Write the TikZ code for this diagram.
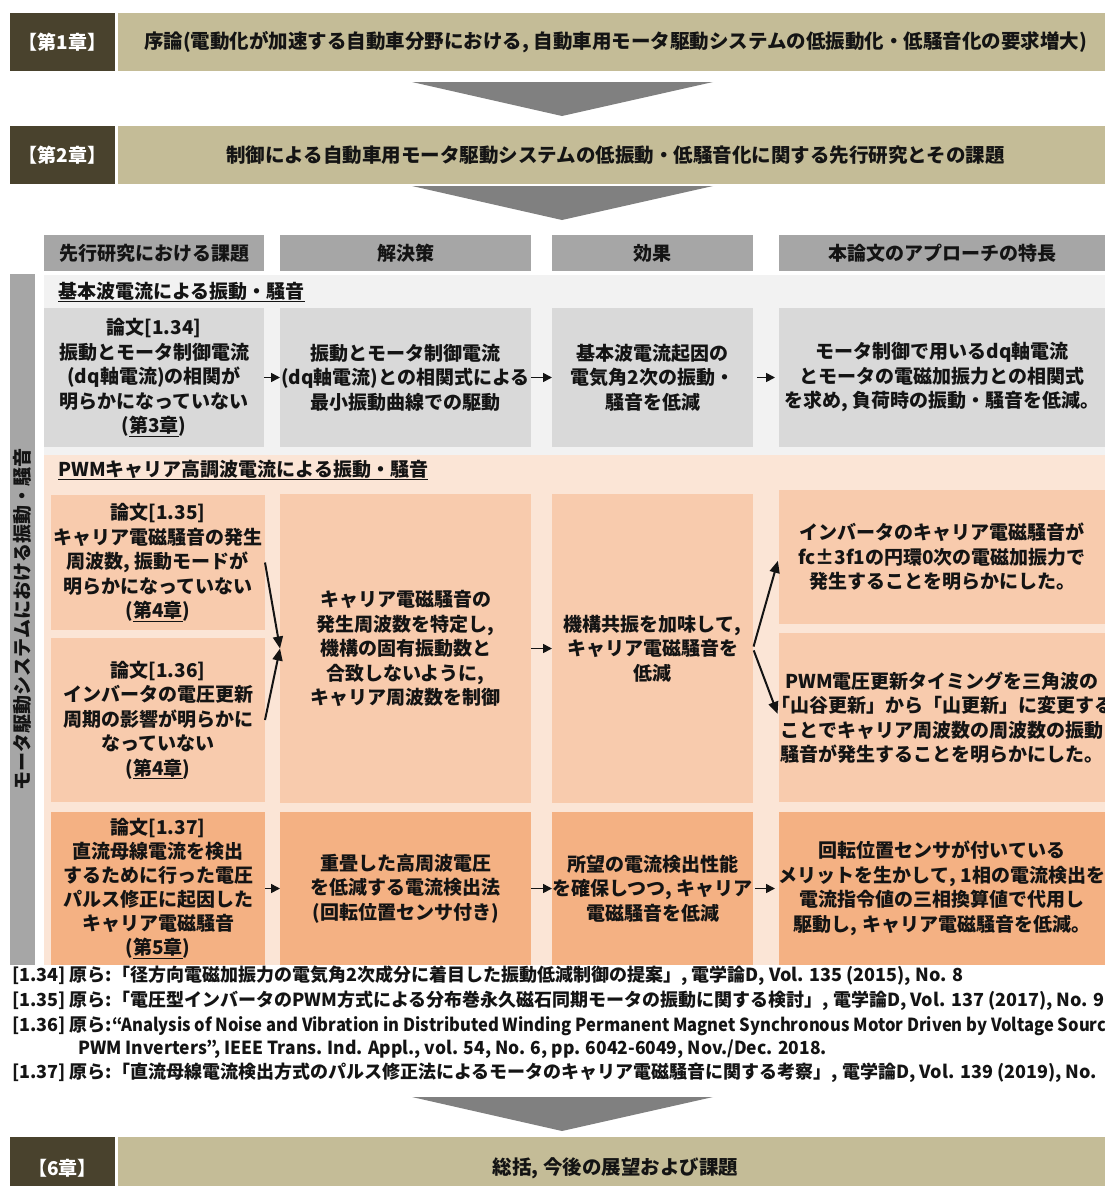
\documentclass[tikz,border=0pt]{standalone}
\usepackage{fontspec}
\setmainfont{Noto Sans CJK JP}
\newfontfamily\latna{Noto Sans CJK JP}[FakeStretch=0.92]
\newfontfamily\latnb{Noto Sans CJK JP}[FakeStretch=0.97]
\usetikzlibrary{arrows.meta}
\definecolor{cdark}{RGB}{73,66,45}
\definecolor{clight}{RGB}{196,188,151}
\definecolor{trigray}{RGB}{128,128,128}
\definecolor{hgray}{RGB}{166,166,166}
\definecolor{secone}{RGB}{242,242,242}
\definecolor{bgray}{RGB}{217,217,217}
\definecolor{sectwo}{RGB}{251,229,214}
\definecolor{peach}{RGB}{248,203,173}
\definecolor{orng}{RGB}{244,177,131}
\definecolor{ink}{RGB}{20,20,20}
\newcommand\myfs[2]{\fontsize{#1}{#2}\selectfont}
\begin{document}
\begin{tikzpicture}[x=1pt,y=-1pt,
  boxbase/.style={inner sep=0pt, outer sep=0pt, anchor=north west, draw=none},
  chapd/.style={boxbase, fill=cdark},
  chapl/.style={boxbase, fill=clight},
  hdr/.style={boxbase, fill=hgray},
  gbox/.style={boxbase, fill=bgray},
  pbox/.style={boxbase, fill=peach},
  obox/.style={boxbase, fill=orng},
  txt/.style={align=center, inner sep=0pt, text=ink, font=\myfs{19}{24.5}\bfseries},
  chaptxt/.style={align=center, inner sep=0pt, text=ink, font=\myfs{19.5}{24}\bfseries},
  chtxt/.style={align=center, inner sep=0pt, text=white, font=\myfs{19}{22}\bfseries},
  ttl/.style={anchor=west, inner sep=0pt, text=ink, font=\myfs{19}{24}\bfseries},
  reftxt/.style={anchor=west, inner sep=0pt, text=ink, font=\myfs{18}{22}\bfseries},
  tri/.style={fill=trigray},
  arr/.style={-{Triangle[length=9pt,width=9pt]}, line width=1.6pt, draw=ink},
  darr/.style={-{Triangle[length=12pt,width=10pt]}, line width=2pt, draw=ink},
]
\useasboundingbox (0,0) rectangle (1105,1186);
\clip (0,0) rectangle (1105,1186);
\fill[white] (0,0) rectangle (1105,1186);

% chapter 1
\node[chapd, minimum width=105pt, minimum height=58pt] (c1l) at (10,13) {};
\node[chtxt] (c1lt) at (c1l.center) {【第1章】};
\node[chapl, minimum width=987pt, minimum height=58pt] (c1) at (118,13) {};
\node[chaptxt] (c1t) at ([xshift=4pt]c1.center) {序論(電動化が加速する自動車分野における, 自動車用モータ駆動システムの低振動化・低騒音化の要求増大)};
\fill[tri] (412,82) -- (713,82) -- (562,116) -- cycle;

% chapter 2
\node[chapd, minimum width=105pt, minimum height=58pt] (c2l) at (10,126) {};
\node[chtxt] (c2lt) at (c2l.center) {【第2章】};
\node[chapl, minimum width=987pt, minimum height=58pt] (c2) at (118,126) {};
\node[chaptxt] (c2t) at ([xshift=4pt]c2.center) {制御による自動車用モータ駆動システムの低振動・低騒音化に関する先行研究とその課題};
\fill[tri] (412,186) -- (713,186) -- (562,220) -- cycle;

% column headers
\node[hdr, minimum width=220pt, minimum height=36pt] (h1) at (44,235) {};
\node[txt] at (h1.center) {先行研究における課題};
\node[hdr, minimum width=251pt, minimum height=36pt] (h2) at (280,235) {};
\node[txt] at (h2.center) {解決策};
\node[hdr, minimum width=201pt, minimum height=36pt] (h3) at (552,235) {};
\node[txt] at (h3.center) {効果};
\node[hdr, minimum width=326pt, minimum height=36pt] (h4) at (779,235) {};
\node[txt] at (h4.center) {本論文のアプローチの特長};

% section backgrounds
\fill[secone] (44,275) rectangle (1105,455);
\fill[sectwo] (44,455) rectangle (1105,965);
\node[boxbase, anchor=center, fill=hgray, rotate=90, minimum width=691pt, minimum height=25pt] (vbar) at (22.5,619.5) {};
\node[txt, rotate=90] (vbart) at (vbar.center) {モータ駆動システムにおける振動・騒音};

% section 1
\node[ttl] (s1) at (58,292) {\underline{基本波電流による振動・騒音}};
\node[gbox, minimum width=220pt, minimum height=139pt] (a1) at (44,308) {};
\node[gbox, minimum width=251pt, minimum height=139pt] (a2) at (280,308) {};
\node[gbox, minimum width=201pt, minimum height=139pt] (a3) at (552,308) {};
\node[gbox, minimum width=326pt, minimum height=139pt] (a4) at (779,308) {};
\node[txt] (a1t) at (a1.center) {論文[1.34]\\振動とモータ制御電流\\(dq軸電流)の相関が\\明らかになっていない\\(\underline{第3章})};
\node[txt] (a2t) at (a2.center) {振動とモータ制御電流\\(dq軸電流)との相関式による\\最小振動曲線での駆動};
\node[txt] (a3t) at (a3.center) {基本波電流起因の\\電気角2次の振動・\\騒音を低減};
\node[txt] (a4t) at (a4.center) {モータ制御で用いるdq軸電流\\とモータの電磁加振力との相関式\\を求め, 負荷時の振動・騒音を低減。};
\draw[arr] (a1.east) -- (a2.west);
\draw[arr] (a2.east) -- (a3.west);
\draw[arr, shorten <=4pt, shorten >=4pt] (a3.east) -- (a4.west);

% section 2
\node[ttl] (s2) at (58,470) {\underline{PWMキャリア高調波電流による振動・騒音}};
\node[pbox, minimum width=214pt, minimum height=135pt] (b1) at (51,495) {};
\node[pbox, minimum width=214pt, minimum height=164pt] (b2) at (51,638) {};
\node[pbox, minimum width=251pt, minimum height=309pt] (bs) at (280,494) {};
\node[pbox, minimum width=201pt, minimum height=309pt] (b3) at (552,494) {};
\node[pbox, minimum width=326pt, minimum height=134pt] (b4) at (779,490) {};
\node[pbox, minimum width=326pt, minimum height=169pt] (b5) at (779,633) {};
\node[txt] (b1t) at (b1.center) {論文[1.35]\\キャリア電磁騒音の発生\\周波数, 振動モードが\\明らかになっていない\\(\underline{第4章})};
\node[txt] (b2t) at (b2.center) {論文[1.36]\\インバータの電圧更新\\周期の影響が明らかに\\なっていない\\(\underline{第4章})};
\node[txt] (bst) at (bs.center) {キャリア電磁騒音の\\発生周波数を特定し,\\機構の固有振動数と\\合致しないように,\\キャリア周波数を制御};
\node[txt] (b3t) at (b3.center) {機構共振を加味して,\\キャリア電磁騒音を\\低減};
\node[txt] (b4t) at (b4.center) {インバータのキャリア電磁騒音が\\fc±3f1の円環0次の電磁加振力で\\発生することを明らかにした。};
\node[txt] (b5t) at (b5.center) {PWM電圧更新タイミングを三角波の\\「山谷更新」から「山更新」に変更する\\ことでキャリア周波数の周波数の振動\\騒音が発生することを明らかにした。};
\draw[darr] (b1.east) -- (bs.west);
\draw[darr] (b2.east) -- (bs.west);
\draw[arr] (bs.east) -- (b3.west);
\draw[darr, shorten <=2pt, shorten >=4pt] (b3.east) -- (b4.west);
\draw[darr, shorten <=2pt, shorten >=4pt] (b3.east) -- (b5.west);

% row 3
\node[obox, minimum width=214pt, minimum height=153pt] (c1b) at (51,812) {};
\node[obox, minimum width=251pt, minimum height=153pt] (c2b) at (280,812) {};
\node[obox, minimum width=201pt, minimum height=153pt] (c3b) at (552,812) {};
\node[obox, minimum width=326pt, minimum height=153pt] (c4b) at (779,812) {};
\node[txt, font=\myfs{19}{24}\bfseries] (c1bt) at (c1b.center) {論文[1.37]\\直流母線電流を検出\\するために行った電圧\\パルス修正に起因した\\キャリア電磁騒音\\(\underline{第5章})};
\node[txt] (c2bt) at (c2b.center) {重畳した高周波電圧\\を低減する電流検出法\\(回転位置センサ付き)};
\node[txt] (c3bt) at (c3b.center) {所望の電流検出性能\\を確保しつつ, キャリア\\電磁騒音を低減};
\node[txt] (c4bt) at (c4b.center) {回転位置センサが付いている\\メリットを生かして, 1相の電流検出を\\電流指令値の三相換算値で代用し\\駆動し, キャリア電磁騒音を低減。};
\draw[arr] (c1b.east) -- (c2b.west);
\draw[arr] (c2b.east) -- (c3b.west);
\draw[arr, shorten <=2pt, shorten >=4pt] (c3b.east) -- (c4b.west);

% references
\node[reftxt] (r1) at (12,976) {[1.34] 原ら:「径方向電磁加振力の電気角2次成分に着目した振動低減制御の提案」, 電学論D, Vol. 135 (2015), No. 8};
\node[reftxt] (r2) at (12,1001) {[1.35] 原ら:「電圧型インバータのPWM方式による分布巻永久磁石同期モータの振動に関する検討」, 電学論D, Vol. 137 (2017), No. 9};
\node[reftxt] (r3) at (12,1026) {[1.36] 原ら:{\latna “Analysis of Noise and Vibration in Distributed Winding Permanent Magnet Synchronous Motor Driven by Voltage Source}};
\node[reftxt] (r4) at (78,1049) {\latnb PWM Inverters”, IEEE Trans. Ind. Appl., vol. 54, No. 6, pp. 6042-6049, Nov./Dec. 2018.};
\node[reftxt] (r5) at (12,1073) {[1.37] 原ら:「直流母線電流検出方式のパルス修正法によるモータのキャリア電磁騒音に関する考察」, 電学論D, Vol. 139 (2019), No.};
\fill[tri] (412,1097) -- (713,1097) -- (562,1131) -- cycle;

% chapter 6
\node[chapd, minimum width=105pt, minimum height=63pt] (c6l) at (10,1137) {};
\node[chtxt] (c6lt) at (c6l.center) {【6章】};
\node[chapl, minimum width=987pt, minimum height=63pt] (c6) at (118,1137) {};
\node[chaptxt] (c6t) at ([xshift=4pt]c6.center) {総括, 今後の展望および課題};
\end{tikzpicture}
\end{document}
